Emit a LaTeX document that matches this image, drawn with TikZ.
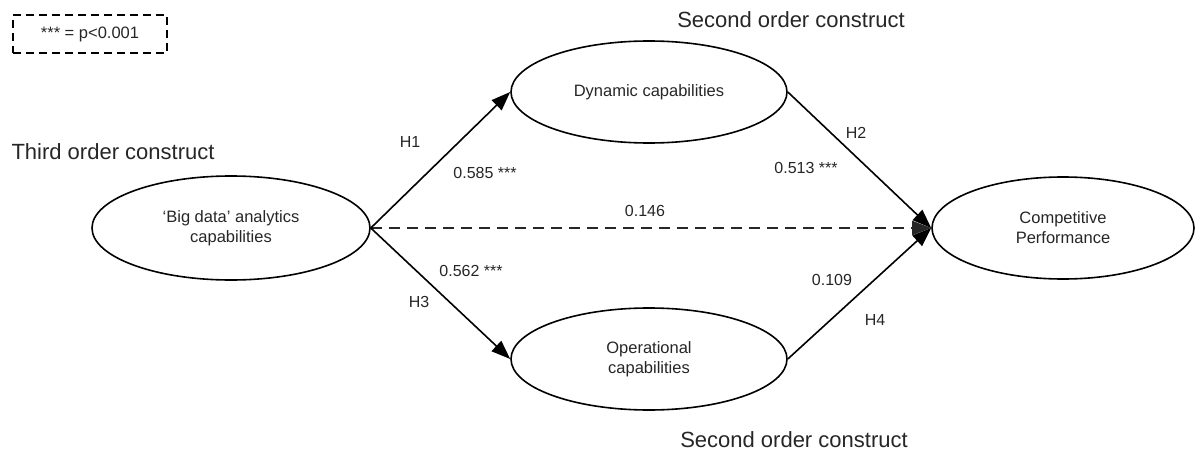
\documentclass[tikz,border=0pt]{standalone}
\usepackage{fontspec}
\setmainfont{Liberation Sans}
\usetikzlibrary{shapes.geometric,arrows.meta}
\definecolor{ink}{HTML}{262626}
\tikzset{
  construct/.style={ellipse, draw=black, line width=1.6pt, inner sep=0pt,
    minimum width=276pt, minimum height=102pt, align=center,
    text=ink, font=\fontsize{16.5}{20}\selectfont},
  path/.style={draw=black, line width=1.6pt,
    -{Triangle[length=19pt,width=14pt]}},
  weak/.style={draw=ink, line width=1.8pt, dash pattern=on 11pt off 7pt,
    -{Triangle[length=19pt,width=14pt]}},
  lbl/.style={text=ink, font=\fontsize{16}{19}\selectfont, inner sep=0pt},
  heading/.style={text=ink, font=\fontsize{22}{26}\selectfont, inner sep=0pt}
}
\begin{document}
\begin{tikzpicture}[x=1pt, y=-1pt]
\useasboundingbox (0,0) rectangle (1203,452);

% legend
\node[draw=black, line width=1.6pt, dash pattern=on 8pt off 5pt,
  minimum width=154pt, minimum height=38pt, inner sep=0pt,
  text=ink, font=\fontsize{16.5}{20}\selectfont] (legend) at (90,34) {*** = p<0.001};

% constructs
\node[construct, minimum width=278pt, minimum height=104pt] (bda) at (231,228)
  {‘Big data’ analytics\\capabilities};
\node[construct] (dyn) at (649,92) {Dynamic capabilities};
\node[construct] (ops) at (649,359) {Operational\\capabilities};
\node[construct, minimum width=262pt] (perf) at (1063,228) {Competitive\\Performance};

% order headings
\node[heading] (third) at (113,152) {Third order construct};
\node[heading] (secondtop) at (791,20) {Second order construct};
\node[heading] (secondbot) at (794,440) {Second order construct};

% structural paths (direct effect first, so the solid heads sit on top)
\draw[weak] (bda.east) -- (perf.west);
\draw[path] (bda.east) -- (dyn.west);
\draw[path] (bda.east) -- (ops.west);
\draw[path] (dyn.east) -- (perf.west);
\draw[path] (ops.east) -- (perf.west);

% path labels
\node[lbl] (h1) at (410,142) {H1};
\node[lbl] (c1) at (485,173) {0.585 ***};
\node[lbl] (h3) at (419,302) {H3};
\node[lbl] (c3) at (471,271) {0.562 ***};
\node[lbl] (h2) at (856,133) {H2};
\node[lbl] (c2) at (806,168) {0.513 ***};
\node[lbl] (h4) at (875,320) {H4};
\node[lbl] (c4) at (832,280) {0.109};
\node[lbl] (c5) at (645,211) {0.146};
\end{tikzpicture}
\end{document}
